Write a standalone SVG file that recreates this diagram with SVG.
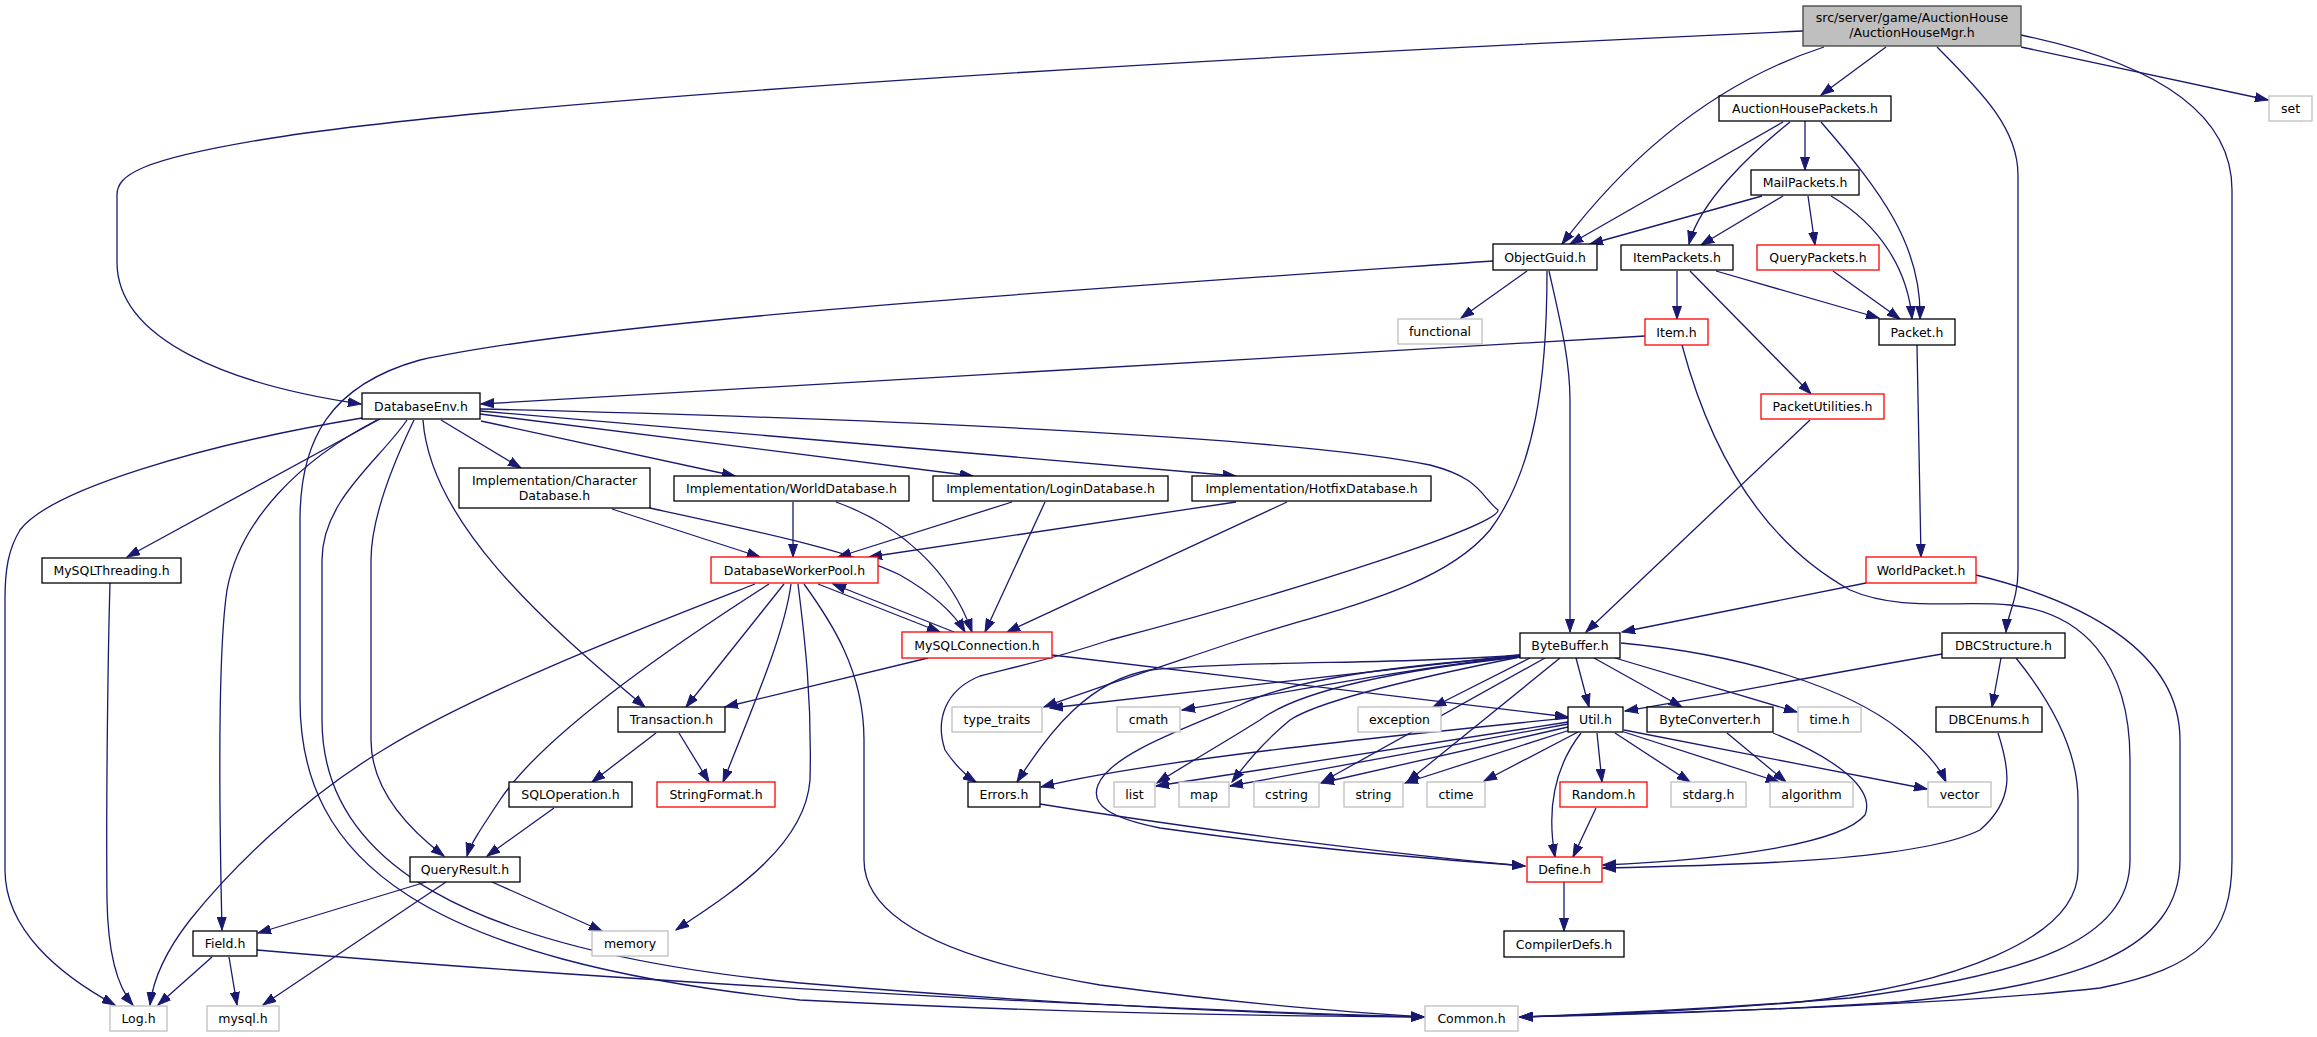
<svg xmlns="http://www.w3.org/2000/svg" width="2317" height="1037" viewBox="0 0 2317 1037">
<style>
text{font-family:"DejaVu Sans","Liberation Sans",sans-serif;font-size:12.5px;fill:#000;text-anchor:middle}
rect{fill:#fff;stroke-width:1.3}
.n rect{stroke:#000}
.r rect{stroke:#ff0000}
.g rect{stroke:#bfbfbf}
.root rect{fill:#bfbfbf;stroke:#404040}
#edges path{fill:none;stroke:#191970;stroke-width:1.3;marker-end:url(#ah)}
</style>
<defs>
<marker id="ah" markerUnits="userSpaceOnUse" markerWidth="14" markerHeight="10" refX="13" refY="5" orient="auto" viewBox="0 0 14 10">
<path d="M0,0.5 L13,5 L0,9.5 z" fill="#191970" stroke="#191970" stroke-width="1"/>
</marker>
</defs>
<rect x="0" y="0" width="2317" height="1037" style="fill:#fff;stroke:none"/>
<g id="edges">
<path d="M1803,31 C1200,58 500,100 260,140 C140,160 117,175 117,195 L117,262 C117,340 230,385 361,404"/>
<path d="M1886,47 L1821,95"/>
<path d="M1824,47 C1735,76 1645,135 1562,244"/>
<path d="M1937,47 C1985,95 2018,130 2018,175 L2018,570 C2018,600 2007,615 2006,632"/>
<path d="M2021,47 L2268,100"/>
<path d="M2021,35 C2150,62 2232,110 2232,190 L2232,860 C2232,935 2200,968 2100,988 C1950,1005 1700,1012 1520,1017"/>
<path d="M1805,121 L1805,170"/>
<path d="M1783,122 L1570,244"/>
<path d="M1790,122 C1755,150 1700,200 1689,244"/>
<path d="M1821,122 C1880,190 1922,245 1920,319"/>
<path d="M1762,196 L1590,244"/>
<path d="M1783,196 L1701,245"/>
<path d="M1808,196 L1815,245"/>
<path d="M1831,196 C1880,225 1908,270 1912,319"/>
<path d="M1493,261 C1100,288 600,320 420,360 C330,385 300,440 300,520 L300,700 C300,860 420,960 800,1000 C1100,1015 1300,1016 1424,1017"/>
<path d="M1527,271 L1461,318"/>
<path d="M1547,271 C1547,380 1535,470 1490,530 C1440,590 1330,610 1240,640 C1160,667 1090,690 1044,707"/>
<path d="M1549,271 C1560,320 1570,360 1570,400 L1570,632"/>
<path d="M1677,271 L1677,319"/>
<path d="M1690,271 L1811,394"/>
<path d="M1716,271 L1879,318"/>
<path d="M1833,271 L1900,319"/>
<path d="M1645,336 L481,404"/>
<path d="M1682,345 C1710,450 1760,540 1850,590 C1900,612 1960,600 2010,605 C2080,612 2130,660 2130,760 L2130,860 C2130,940 2030,975 1850,998 C1700,1010 1600,1014 1520,1017"/>
<path d="M1976,575 C2080,600 2180,650 2180,740 L2180,860 C2180,950 2080,985 1900,1002 C1750,1012 1620,1015 1520,1017"/>
<path d="M2016,658 C2050,700 2078,750 2078,800 L2078,870 C2078,940 1950,985 1800,1002 C1680,1012 1600,1015 1520,1017"/>
<path d="M1942,654 C1820,675 1720,695 1625,711"/>
<path d="M2001,658 L1992,707"/>
<path d="M1998,733 C2010,770 2015,800 1980,830 C1920,860 1750,865 1603,868"/>
<path d="M1727,733 L1786,782"/>
<path d="M1773,733 C1840,760 1875,790 1865,815 C1840,845 1720,860 1603,865"/>
<path d="M1597,733 L1602,782"/>
<path d="M1615,733 L1690,782"/>
<path d="M1624,732 L1779,782"/>
<path d="M1624,730 L1927,789"/>
<path d="M1581,733 C1560,760 1545,800 1555,857"/>
<path d="M1596,808 L1573,857"/>
<path d="M1568,718 C1400,735 1150,760 1041,787"/>
<path d="M1568,722 L1156,786"/>
<path d="M1568,724 L1230,786"/>
<path d="M1568,727 L1321,783"/>
<path d="M1570,730 L1405,783"/>
<path d="M1578,732 L1484,781"/>
<path d="M1520,655 L1050,708"/>
<path d="M1520,656 C1400,670 1300,690 1182,710"/>
<path d="M1530,658 L1433,707"/>
<path d="M1576,658 L1589,707"/>
<path d="M1594,658 L1682,707"/>
<path d="M1615,658 L1797,712"/>
<path d="M1621,643 C1750,655 1850,690 1900,730 C1925,750 1940,768 1946,782"/>
<path d="M1520,655 C1400,665 1250,660 1150,670 C1090,680 1050,730 1017,782"/>
<path d="M1520,657 C1400,670 1300,690 1260,720 C1220,745 1185,765 1157,783"/>
<path d="M1520,657 C1430,675 1320,700 1290,720 C1260,745 1245,765 1232,782"/>
<path d="M1545,658 L1322,782"/>
<path d="M1560,658 L1407,782"/>
<path d="M1520,657 C1400,665 1290,680 1240,705 C1180,730 1110,755 1098,785 C1090,805 1110,818 1160,828 C1300,848 1420,858 1525,866"/>
<path d="M1040,804 C1200,830 1400,855 1525,866"/>
<path d="M928,658 L725,707"/>
<path d="M1052,655 L1568,717"/>
<path d="M954,632 L833,584"/>
<path d="M818,584 L940,632"/>
<path d="M755,584 C650,625 480,690 383,750 C300,800 230,870 190,920 C165,952 153,980 150,1005"/>
<path d="M769,584 C650,660 540,740 500,800 C480,830 470,845 467,856"/>
<path d="M784,584 L686,707"/>
<path d="M791,584 C785,630 760,690 723,782"/>
<path d="M798,584 C805,640 812,700 810,780 C805,850 720,900 676,930"/>
<path d="M804,584 C830,620 864,670 864,740 L864,860 C864,920 950,960 1100,985 C1250,1005 1350,1012 1424,1017"/>
<path d="M441,420 L521,468"/>
<path d="M481,421 L735,476"/>
<path d="M480,414 L973,476"/>
<path d="M480,411 L1236,476"/>
<path d="M480,409 C900,419 1300,438 1430,465 C1480,478 1480,495 1498,510 C1500,525 1300,590 1110,640 C1050,660 1010,668 980,676 C945,690 935,720 945,750 C955,765 965,775 976,782"/>
<path d="M380,419 L127,557"/>
<path d="M377,420 C300,460 240,520 227,590 C218,650 219,800 222,930"/>
<path d="M407,420 C380,460 322,500 322,560 L322,720 C322,860 460,950 800,983 C1100,1008 1300,1015 1424,1017"/>
<path d="M414,420 C390,470 371,520 371,560 L371,740 C371,790 410,830 444,856"/>
<path d="M423,420 C430,520 540,620 645,707"/>
<path d="M362,418 C200,445 50,490 20,530 C8,550 5,570 5,600 L5,870 C5,930 60,975 115,1005"/>
<path d="M110,583 C108,650 106,800 107,900 C108,960 120,990 133,1005"/>
<path d="M612,509 L760,557"/>
<path d="M793,502 L793,557"/>
<path d="M1012,502 L838,557"/>
<path d="M1236,502 L869,557"/>
<path d="M650,508 C750,530 850,550 900,575 C935,595 955,615 965,632"/>
<path d="M836,502 C900,525 950,570 972,632"/>
<path d="M1045,502 L985,632"/>
<path d="M1287,502 L1007,632"/>
<path d="M656,733 L592,782"/>
<path d="M679,733 L709,782"/>
<path d="M554,808 L487,856"/>
<path d="M426,882 L258,933"/>
<path d="M446,882 L263,1005"/>
<path d="M492,882 L602,931"/>
<path d="M212,957 L158,1005"/>
<path d="M229,957 L237,1005"/>
<path d="M257,950 C600,980 1100,1008 1424,1017"/>
<path d="M1810,420 L1586,632"/>
<path d="M1866,583 L1622,632"/>
<path d="M1917,345 L1921,557"/>
<path d="M1564,882 L1564,931"/>
</g>
<g id="n_root" class="root"><rect x="1803" y="6" width="218" height="40"/><text x="1912" y="22">src/server/game/AuctionHouse</text><text x="1912" y="37">/AuctionHouseMgr.h</text></g>
<g id="n_ahp" class="n"><rect x="1719" y="96" width="172" height="25"/><text x="1805" y="113">AuctionHousePackets.h</text></g>
<g id="n_set" class="g"><rect x="2269" y="96" width="43" height="25"/><text x="2290.5" y="113">set</text></g>
<g id="n_mail" class="n"><rect x="1751" y="170" width="108" height="25"/><text x="1805" y="187">MailPackets.h</text></g>
<g id="n_objectguid" class="n"><rect x="1493" y="244" width="104" height="26"/><text x="1545" y="261.5">ObjectGuid.h</text></g>
<g id="n_itempackets" class="n"><rect x="1621" y="245" width="112" height="25"/><text x="1677" y="262">ItemPackets.h</text></g>
<g id="n_querypackets" class="r"><rect x="1757" y="245" width="122" height="25"/><text x="1818" y="262">QueryPackets.h</text></g>
<g id="n_functional" class="g"><rect x="1398" y="319" width="84" height="25"/><text x="1440" y="336">functional</text></g>
<g id="n_item" class="r"><rect x="1645" y="319" width="63" height="26"/><text x="1676.5" y="336.5">Item.h</text></g>
<g id="n_packet" class="n"><rect x="1879" y="319" width="76" height="26"/><text x="1917" y="336.5">Packet.h</text></g>
<g id="n_databaseenv" class="n"><rect x="362" y="393" width="118" height="26"/><text x="421" y="410.5">DatabaseEnv.h</text></g>
<g id="n_packetutilities" class="r"><rect x="1761" y="394" width="123" height="25"/><text x="1822.5" y="411">PacketUtilities.h</text></g>
<g id="n_chardb" class="n"><rect x="459" y="468" width="191" height="40"/><text x="554.5" y="484.5">Implementation/Character</text><text x="554.5" y="499.5">Database.h</text></g>
<g id="n_worlddb" class="n"><rect x="674" y="476" width="235" height="25"/><text x="791.5" y="493">Implementation/WorldDatabase.h</text></g>
<g id="n_logindb" class="n"><rect x="933" y="476" width="235" height="25"/><text x="1050.5" y="493">Implementation/LoginDatabase.h</text></g>
<g id="n_hotfixdb" class="n"><rect x="1192" y="476" width="239" height="25"/><text x="1311.5" y="493">Implementation/HotfixDatabase.h</text></g>
<g id="n_mysqlthreading" class="n"><rect x="42" y="558" width="139" height="25"/><text x="111.5" y="575">MySQLThreading.h</text></g>
<g id="n_dwp" class="r"><rect x="711" y="557" width="167" height="26"/><text x="794.5" y="574.5">DatabaseWorkerPool.h</text></g>
<g id="n_worldpacket" class="r"><rect x="1866" y="557" width="110" height="26"/><text x="1921" y="574.5">WorldPacket.h</text></g>
<g id="n_mysqlconn" class="r"><rect x="902" y="632" width="150" height="26"/><text x="977" y="649.5">MySQLConnection.h</text></g>
<g id="n_bytebuffer" class="n"><rect x="1520" y="633" width="100" height="25"/><text x="1570" y="650">ByteBuffer.h</text></g>
<g id="n_dbcstructure" class="n"><rect x="1942" y="633" width="123" height="25"/><text x="2003.5" y="650">DBCStructure.h</text></g>
<g id="n_transaction" class="n"><rect x="618" y="707" width="107" height="25"/><text x="671.5" y="724">Transaction.h</text></g>
<g id="n_typetraits" class="g"><rect x="952" y="707" width="90" height="25"/><text x="997" y="724">type_traits</text></g>
<g id="n_cmath" class="g"><rect x="1117" y="707" width="63" height="25"/><text x="1148.5" y="724">cmath</text></g>
<g id="n_exception" class="g"><rect x="1358" y="707" width="83" height="25"/><text x="1399.5" y="724">exception</text></g>
<g id="n_util" class="n"><rect x="1568" y="707" width="55" height="25"/><text x="1595.5" y="724">Util.h</text></g>
<g id="n_byteconverter" class="n"><rect x="1647" y="707" width="126" height="25"/><text x="1710" y="724">ByteConverter.h</text></g>
<g id="n_time" class="g"><rect x="1798" y="707" width="63" height="25"/><text x="1829.5" y="724">time.h</text></g>
<g id="n_dbcenums" class="n"><rect x="1936" y="707" width="106" height="25"/><text x="1989" y="724">DBCEnums.h</text></g>
<g id="n_sqloperation" class="n"><rect x="509" y="782" width="123" height="25"/><text x="570.5" y="799">SQLOperation.h</text></g>
<g id="n_stringformat" class="r"><rect x="657" y="782" width="118" height="25"/><text x="716" y="799">StringFormat.h</text></g>
<g id="n_errors" class="n"><rect x="968" y="782" width="72" height="25"/><text x="1004" y="799">Errors.h</text></g>
<g id="n_list" class="g"><rect x="1114" y="782" width="41" height="25"/><text x="1134.5" y="799">list</text></g>
<g id="n_map" class="g"><rect x="1179" y="782" width="50" height="25"/><text x="1204" y="799">map</text></g>
<g id="n_cstring" class="g"><rect x="1254" y="782" width="65" height="25"/><text x="1286.5" y="799">cstring</text></g>
<g id="n_string" class="g"><rect x="1344" y="782" width="59" height="25"/><text x="1373.5" y="799">string</text></g>
<g id="n_ctime" class="g"><rect x="1427" y="782" width="58" height="25"/><text x="1456" y="799">ctime</text></g>
<g id="n_random" class="r"><rect x="1560" y="782" width="87" height="25"/><text x="1603.5" y="799">Random.h</text></g>
<g id="n_stdarg" class="g"><rect x="1671" y="782" width="75" height="25"/><text x="1708.5" y="799">stdarg.h</text></g>
<g id="n_algorithm" class="g"><rect x="1770" y="782" width="83" height="25"/><text x="1811.5" y="799">algorithm</text></g>
<g id="n_vector" class="g"><rect x="1928" y="782" width="63" height="25"/><text x="1959.5" y="799">vector</text></g>
<g id="n_queryresult" class="n"><rect x="410" y="857" width="110" height="25"/><text x="465" y="874">QueryResult.h</text></g>
<g id="n_define" class="r"><rect x="1527" y="857" width="75" height="25"/><text x="1564.5" y="874">Define.h</text></g>
<g id="n_field" class="n"><rect x="193" y="931" width="64" height="25"/><text x="225" y="948">Field.h</text></g>
<g id="n_memory" class="g"><rect x="592" y="931" width="76" height="25"/><text x="630" y="948">memory</text></g>
<g id="n_compilerdefs" class="n"><rect x="1504" y="931" width="120" height="26"/><text x="1564" y="948.5">CompilerDefs.h</text></g>
<g id="n_log" class="g"><rect x="110" y="1006" width="57" height="25"/><text x="138.5" y="1023">Log.h</text></g>
<g id="n_mysql" class="g"><rect x="207" y="1006" width="72" height="25"/><text x="243" y="1023">mysql.h</text></g>
<g id="n_common" class="g"><rect x="1425" y="1006" width="93" height="25"/><text x="1471.5" y="1023">Common.h</text></g>
</svg>
